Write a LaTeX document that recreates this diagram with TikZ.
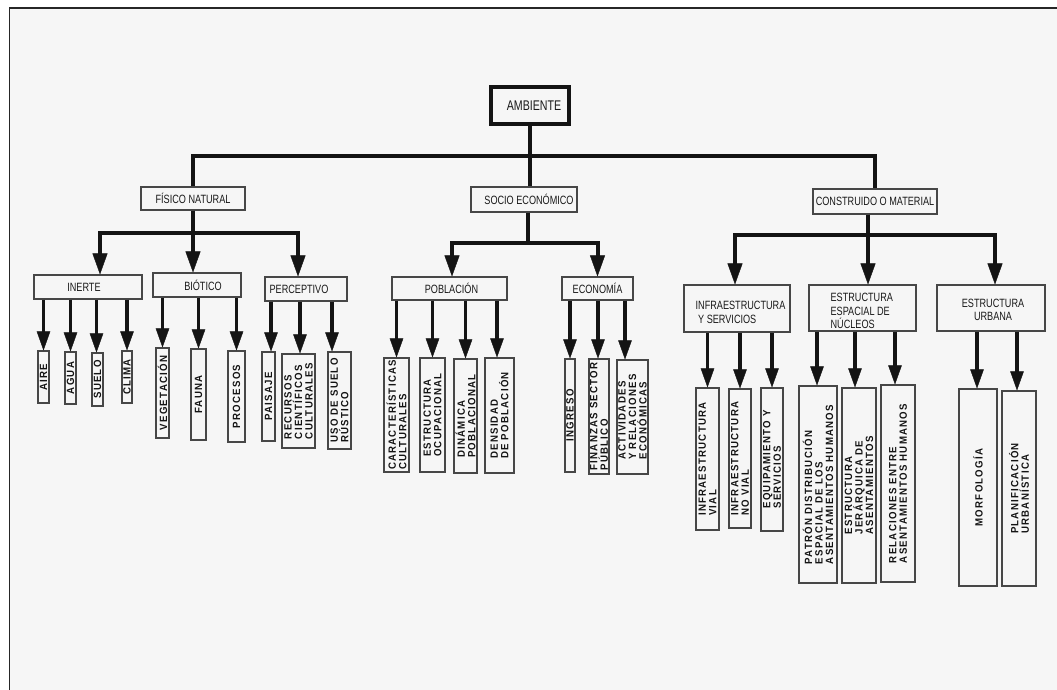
\documentclass[tikz,border=0pt]{standalone}
\usepackage{fontspec}
\setmainfont{Liberation Sans}
\newfontfamily\lfLabel[FakeStretch=0.76]{Liberation Sans}
\newfontfamily\lfLeaf[LetterSpace=12,FakeStretch=0.92]{Liberation Sans Bold}
\usetikzlibrary{arrows.meta,fit}

\newcommand\leafnode[6]{%
  \node[leafbox, fit={(#2,#3) (#4,#5)}] (#1) {};
  \node[leaftext] (#1-t) at (#1.center) {#6};}
\newcommand\lvlbox[5]{%
  \node[lvbox, fit={(#2,#3) (#4,#5)}] (#1) {};}
\newcommand\larrow[3]{%
  \draw[larr] ([xshift=#3pt]#2.north |- #1.south) -- ([xshift=#3pt]#2.north);}

\begin{document}
\begin{tikzpicture}[x=1pt,y=-1pt,
  conn/.style={line width=4pt, draw=black!92},
  arr/.style={conn, -{Triangle[length=21pt,width=15pt,line width=0.4pt]}},
  larr/.style={line width=3.6pt, draw=black!92, -{Triangle[length=19pt,width=13.5pt,line width=0.4pt]}},
  lvbox/.style={draw=black!72, line width=1.1pt, inner sep=0pt},
  leafbox/.style={draw=black!72, line width=1.1pt, inner sep=0pt},
  leaftext/.style={rotate=90, align=left, inner sep=0pt, text=black!92,
    font={\lfLeaf\fontsize{10.5}{10.5}\selectfont}},
  lbl/.style={inner sep=0pt, align=center, text=black!90,
    font={\lfLabel\fontsize{12}{13.5}\selectfont}}]

\useasboundingbox (0,0) rectangle (1057,690);
\fill[black!3.5] (9.5,8) rectangle (1057,690);
\draw[line width=1.6pt, black!85] (9.5,690) -- (9.5,8) -- (1057,8);

% ---------- top level ----------
\node[draw=black!92, line width=4pt, inner sep=0pt, fit={(491,87) (569,124)}] (amb) {};
\node[lbl, font={\lfLabel\fontsize{14}{16}\selectfont}] (amb-t) at ([xshift=4pt]amb.center) {AMBIENTE};

\lvlbox{fis}{141}{187}{245}{210}
\node[lbl] (fis-t) at (fis.center) {FÍSICO NATURAL};
\lvlbox{soc}{471}{187}{577}{212}
\node[lbl] (soc-t) at ([xshift=5pt]soc.center) {SOCIO ECONÓMICO};
\lvlbox{cons}{813}{189}{937}{214}
\node[lbl] (cons-t) at (cons.center) {CONSTRUIDO O MATERIAL};

\coordinate (topbar) at (0,156);
\draw[conn] (amb.south) -- (amb.south |- soc.north);
\draw[conn] (fis.north) |- (cons.north |- topbar) -- (cons.north);

% ---------- second level ----------
\lvlbox{inerte}{34}{275}{142}{299}
\node[lbl] (inerte-t) at ([xshift=-4pt]inerte.center) {INERTE};
\lvlbox{biot}{153}{273}{241}{297}
\node[lbl] (biot-t) at ([xshift=6pt]biot.center) {BIÓTICO};
\lvlbox{perc}{265}{277}{347}{301}
\node[lbl] (perc-t) at ([xshift=-7pt]perc.center) {PERCEPTIVO};

\lvlbox{pobl}{392}{277}{507}{300}
\node[lbl] (pobl-t) at ([xshift=2pt]pobl.center) {POBLACIÓN};
\lvlbox{econ}{562}{277}{633}{300}
\node[lbl] (econ-t) at (econ.center) {ECONOMÍA};

\lvlbox{infra}{684}{285}{790}{332}
\node[lbl, align=left, anchor=west] (infra-t) at ([xshift=12pt,yshift=-4pt]infra.west) {INFRAESTRUCTURA\\\ Y SERVICIOS};
\lvlbox{estesp}{809}{285}{916}{331}
\node[lbl, align=left, anchor=west] (estesp-t) at ([xshift=22pt,yshift=-3pt]estesp.west) {ESTRUCTURA\\ESPACIAL DE\\NÚCLEOS};
\lvlbox{urb}{937}{285}{1045}{331}
\node[lbl] (urb-t) at ([xshift=2pt,yshift=-2pt]urb.center) {ESTRUCTURA\\URBANA};

\coordinate (fbar) at (0,233);
\draw[arr] (fis.south) |- ([xshift=12pt]inerte.north |- fbar) -- ([xshift=12pt]inerte.north);
\draw[arr] (fis.south) -- (fis.south |- biot.north);
\draw[arr] (fis.south) |- ([xshift=-8pt]perc.north |- fbar) -- ([xshift=-8pt]perc.north);

\coordinate (sbar) at (0,243);
\draw[arr] ([xshift=4pt]soc.south) |- ([xshift=2.5pt]pobl.north |- sbar) -- ([xshift=2.5pt]pobl.north);
\draw[arr] ([xshift=4pt]soc.south) |- (econ.north |- sbar) -- (econ.north);

\coordinate (cbar) at (0,235);
\draw[arr] ([xshift=-7pt]cons.south) |- ([xshift=-2pt]infra.north |- cbar) -- ([xshift=-2pt]infra.north);
\draw[arr] ([xshift=-7pt]cons.south) -- ([xshift=-7pt]cons.south |- estesp.north);
\draw[arr] ([xshift=-7pt]cons.south) |- ([xshift=4pt]urb.north |- cbar) -- ([xshift=4pt]urb.north);

% ---------- leaves: físico natural ----------
\leafnode{aire}{38}{351}{49}{403}{AIRE}
\leafnode{agua}{65}{352}{76}{404}{AGUA}
\leafnode{suelo}{92}{353}{103}{406}{SUELO}
\leafnode{clima}{122}{351}{132}{403}{CLIMA}
\leafnode{veg}{156}{348}{169}{438}{VEGETACIÓN}
\leafnode{fauna}{191}{349}{206}{440}{FAUNA}
\leafnode{proc}{228}{351}{245}{442}{PROCESOS}
\leafnode{pais}{262}{352}{275}{441}{PAISAJE}
\leafnode{recur}{282}{354}{315}{448}{RECURSOS\\CIENTÍFICOS\\CULTURALES}
\leafnode{uso}{328}{352}{351}{449}{USO DE SUELO\\RÚSTICO}

\larrow{inerte}{aire}{0}
\larrow{inerte}{agua}{0}
\larrow{inerte}{suelo}{-1}
\larrow{inerte}{clima}{0}
\larrow{biot}{veg}{0}
\larrow{biot}{fauna}{0}
\larrow{biot}{proc}{0}
\larrow{perc}{pais}{2.5}
\larrow{perc}{recur}{1.5}
\larrow{perc}{uso}{-7.5}

% ---------- leaves: socio económico ----------
\leafnode{carac}{384}{358}{409}{472}{CARACTERÍSTICAS\\CULTURALES}
\leafnode{ocup}{420}{358}{445}{472}{ESTRUCTURA\\OCUPACIONAL}
\leafnode{dinam}{454}{359}{477}{473}{DINÁMICA\\POBLACIONAL}
\leafnode{dens}{485}{358}{514}{473}{DENSIDAD\\DE POBLACIÓN}
\leafnode{ingr}{565}{359}{575}{472}{INGRESO}
\leafnode{finan}{589}{359}{609}{474}{FINANZAS SECTOR\\PÚBLICO}
\leafnode{activ}{617}{360}{648}{474}{ACTIVIDADES\\Y RELACIONES\\ECONÓMICAS}

\larrow{pobl}{carac}{0}
\larrow{pobl}{ocup}{0}
\larrow{pobl}{dinam}{0}
\larrow{pobl}{dens}{-2.5}
\larrow{econ}{ingr}{0}
\larrow{econ}{finan}{-1}
\larrow{econ}{activ}{-7.5}

% ---------- leaves: construido ----------
\leafnode{ivial}{696}{388}{719}{530}{INFRAESTRUCTURA\\VIAL}
\leafnode{invial}{729}{389}{751}{528}{INFRAESTRUCTURA\\NO VIAL}
\leafnode{equip}{761}{388}{783}{531}{EQUIPAMIENTO Y\\SERVICIOS}
\leafnode{patron}{799}{386}{837}{583}{PATRÓN DISTRIBUCIÓN\\ESPACIAL DE LOS\\ASENTAMIENTOS HUMANOS}
\leafnode{jerar}{842}{388}{876}{583}{ESTRUCTURA\\JERÁRQUICA DE\\ASENTAMIENTOS}
\leafnode{relac}{881}{385}{915}{582}{RELACIONES ENTRE\\ASENTAMIENTOS HUMANOS}
\leafnode{morfo}{959}{389}{997}{586}{MORFOLOGÍA}
\leafnode{planif}{1002}{391}{1036}{586}{PLANIFICACIÓN\\URBANÍSTICA}

\larrow{infra}{ivial}{0}
\larrow{infra}{invial}{0}
\larrow{infra}{equip}{0}
\larrow{estesp}{patron}{-1}
\larrow{estesp}{jerar}{-4}
\larrow{estesp}{relac}{-3}
\larrow{urb}{morfo}{-1}
\larrow{urb}{planif}{-2}

\end{tikzpicture}
\end{document}
